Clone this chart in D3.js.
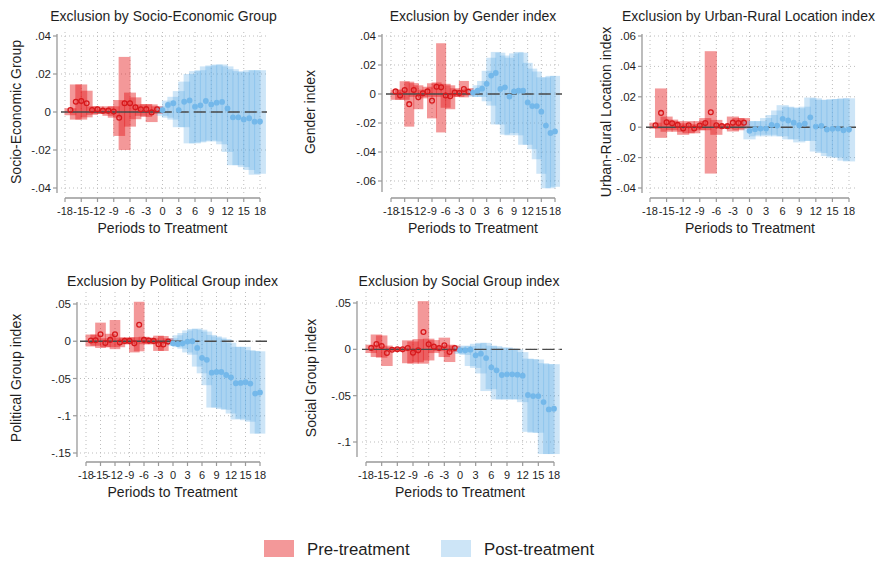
<!DOCTYPE html>
<html><head><meta charset="utf-8">
<script src="https://cdn.jsdelivr.net/npm/d3@7"></script>
<style>body{margin:0;background:#fff} text{font-family:"Liberation Sans",Arial,sans-serif;fill:#1e1e1e}</style>
</head><body><svg id="c" width="877" height="563"></svg>
<script>
const periods = d3.range(-17, 19);          // -17 .. 18
const xTicks = d3.range(-18, 19, 3);
const legendLabels = ["Pre-treatment", "Post-treatment"];

// Socio-Economic Group
const seCoef = [.0010,.0054,.0058,.0046,.0010,.0014,.0007,.0007,.0002,-.0030,.0046,.0046,.0025,.0014,.0015,-.0002,.0014,
  .0010,.0037,.0046,.0010,.0054,.0061,.0028,.0035,.0058,.0040,.0049,.0053,.0019,-.0028,-.0028,-.0039,-.0033,-.0051,-.0050];
const seLo = [-.0017,-.0040,-.0040,-.0028,-.0015,-.0010,-.0010,-.0020,-.0030,-.0126,-.0200,-.0077,-.0038,-.0020,-.0026,-.0053,-.0010,
  -.002,-.003,-.004,-.008,-.008,-.0165,-.0165,-.016,-.0155,-.015,-.0155,-.017,-.021,-.028,-.028,-.029,-.0305,-.033,-.0325];
const seHi = [.0020,.0145,.0145,.0112,.0030,.0030,.0020,.0030,.0030,.0063,.0290,.0102,.0077,.0040,.0042,.0040,.0030,
  .003,.006,.008,.011,.016,.020,.0215,.022,.024,.0245,.025,.025,.024,.0225,.0215,.021,.022,.022,.022];
const seTicks = [.04,.02,0,-.02,-.04];

// Gender
const geCoef = [.0018,-.0010,.0028,-.0070,.0028,-.0022,.0005,.0018,-.0046,.0050,.0046,-.0010,-.0016,.0010,.0007,.0035,.0016,
  .0010,.0023,.0037,.0070,.0127,.0145,.0035,.0046,-.0018,.0018,.0023,.0023,-.0058,-.0083,-.0083,-.0122,-.0218,-.0269,-.0258];
const geLo = [-.004,-.004,-.004,-.0225,-.002,-.0105,-.003,-.002,-.0168,-.002,-.0265,-.0095,-.0105,-.002,-.002,-.0023,-.001,
  -.002,-.002,-.002,-.005,-.008,-.021,-.021,-.028,-.0285,-.027,-.0285,-.035,-.035,-.038,-.045,-.055,-.065,-.065,-.064];
const geHi = [.003,.003,.0088,.0085,.0075,.006,.003,.005,.0074,.008,.035,.007,.006,.004,.003,.009,.004,
  .003,.006,.009,.016,.025,.029,.0285,.0265,.025,.028,.029,.0285,.0215,.0175,.0155,.0115,.0115,.0125,.0125];
const geTicks = [.04,.02,0,-.02,-.04,-.06];

// Urban-Rural Location
const urCoef = [.0013,.0094,.0033,.0026,.0015,-.0009,.0013,-.0009,.0011,.0028,.0098,.0013,.0007,.0007,.0030,.0028,.0030,
  -.0024,-.0013,-.0009,-.0009,.0015,.0011,.0055,.0044,.0030,.0013,.0024,.0065,.0004,.0009,-.0015,-.0011,-.0009,-.0020,-.0015];
const urLo = [-.001,-.007,-.003,-.002,-.003,-.005,-.004,-.004,-.002,-.002,-.0305,-.005,-.001,-.001,-.0028,-.002,-.001,
  -.008,-.006,-.005,-.006,-.005,-.006,-.006,-.008,-.008,-.010,-.009,-.009,-.016,-.017,-.019,-.020,-.020,-.022,-.0225];
const urHi = [.003,.0255,.007,.005,.004,.0026,.004,.002,.004,.006,.050,.0048,.002,.002,.007,.006,.006,
  .004,.004,.004,.006,.008,.011,.0145,.0135,.013,.0125,.0135,.0195,.019,.018,.018,.0185,.0185,.019,.019];
const urTicks = [.06,.04,.02,0,-.02,-.04];

// Political Group
const poCoef = [.0010,.0014,.0093,-.0023,.0018,.0093,-.0018,.0005,.0005,-.0028,.0222,.0018,.0009,.0005,-.0040,-.0044,-.0005,
  -.0028,-.0037,-.0028,-.0005,.0000,-.0089,-.0222,-.0249,-.0422,-.0413,-.0413,-.0453,-.0484,-.0564,-.0560,-.0550,-.0568,-.0702,-.0688];
const poLo = [-.007,-.006,-.009,-.008,-.008,-.0106,-.008,-.004,-.004,-.015,-.0135,-.004,-.004,-.004,-.013,-.013,-.004,
  -.006,-.008,-.010,-.015,-.018,-.034,-.043,-.059,-.089,-.089,-.091,-.092,-.097,-.105,-.104,-.106,-.108,-.124,-.124];
const poHi = [.009,.009,.025,.004,.010,.0285,.005,.005,.005,.0055,.053,.006,.005,.004,.0075,.007,.004,
  .004,.008,.011,.0145,.0165,.017,.0155,.013,.0085,.0065,.005,.003,-.002,-.0075,-.0075,-.0075,-.012,-.013,-.0135];
const poTicks = [.05,0,-.05,-.1,-.15];

// Social Group
const soCoef = [.0014,.0058,.0036,-.0040,-.0004,.0000,.0000,.0014,-.0036,-.0011,.0187,.0054,.0029,.0014,.0043,-.0029,.0014,
  -.0011,-.0011,-.0004,-.0065,-.0047,-.0094,-.0194,-.0227,-.0277,-.0270,-.0270,-.0274,-.0284,-.0493,-.0504,-.0504,-.0569,-.0648,-.0641];
const soLo = [-.004,-.0083,-.009,-.018,-.002,-.002,-.002,-.015,-.0155,-.014,-.0155,-.012,-.004,-.002,-.0083,-.0137,-.003,
  -.005,-.006,-.018,-.020,-.026,-.045,-.043,-.054,-.054,-.054,-.054,-.054,-.057,-.089,-.090,-.090,-.113,-.113,-.113];
const soHi = [.005,.016,.015,.004,.002,.002,.002,.0097,.0085,.011,.052,.0115,.010,.004,.0126,.005,.004,
  .003,.004,.0035,.006,.007,.007,.004,.0035,.0018,.002,.001,.000,-.003,-.010,-.0105,-.011,-.015,-.016,-.016];
const soTicks = [.05,0,-.05,-.1];

const PRE_FILL = "rgb(228,26,28)", PRE_OP = 0.45;
const POST_FILL = "rgb(90,170,230)", POST_OP = 0.30;
const PRE_PT = "#d7191c", POST_PT = "#74b8ea";

const panels = [
  {title:"Exclusion by Socio-Economic Group", ytitle:"Socio-Economic Group", coef:seCoef, lo:seLo, hi:seHi, ticks:seTicks,
   ax:57, x0:65, x1:260, yT:36, yB:188, xAxisY:198, gl:61, gr:267, gt:32, gb:193, tx:163.5, ty:21, ytx:21, yty:112, xtx:162.5},
  {title:"Exclusion by Gender index", ytitle:"Gender index", coef:geCoef, lo:geLo, hi:geHi, ticks:geTicks,
   ax:382, x0:391, x1:555, yT:36, yB:181, xAxisY:198, gl:386, gr:562, gt:32, gb:192, tx:473, ty:21, ytx:315, yty:112, xtx:473},
  {title:"Exclusion by Urban-Rural Location index", ytitle:"Urban-Rural Location index", coef:urCoef, lo:urLo, hi:urHi, ticks:urTicks,
   ax:642, x0:650, x1:849, yT:36, yB:188, xAxisY:198, gl:646, gr:856, gt:32, gb:193, tx:748.5, ty:21, ytx:611, yty:112, xtx:750},
  {title:"Exclusion by Political Group index", ytitle:"Political Group index", coef:poCoef, lo:poLo, hi:poHi, ticks:poTicks,
   ax:77, x0:86, x1:260, yT:304, yB:453, xAxisY:462, gl:80, gr:267, gt:292, gb:457, tx:172.5, ty:286, ytx:21, yty:378, xtx:172.5},
  {title:"Exclusion by Social Group index", ytitle:"Social Group index", coef:soCoef, lo:soLo, hi:soHi, ticks:soTicks,
   ax:357, x0:366, x1:554, yT:303, yB:442, xAxisY:462, gl:362, gr:562, gt:292, gb:457, tx:459, ty:286, ytx:316, yty:378, xtx:460}
];

const fmt = d => d === 0 ? "0" : (d < 0 ? "-" : "") + String(Math.abs(d)).replace(/^0/, "");
const svg = d3.select("#c");

panels.forEach(P => {
  const x = d3.scaleLinear().domain([-18, 18]).range([P.x0, P.x1]);
  const y = d3.scaleLinear().domain([d3.min(P.ticks), d3.max(P.ticks)]).range([P.yB, P.yT]);
  const g = svg.append("g");
  const data = periods.map((p, i) => ({p, c: P.coef[i], lo: P.lo[i], hi: P.hi[i]}));

  // grid
  g.selectAll(".hg").data(P.ticks).join("line")
    .attr("x1", P.gl).attr("x2", P.gr).attr("y1", d => y(d)).attr("y2", d => y(d))
    .attr("stroke", "#bdbdbd").attr("stroke-dasharray", "1,3").attr("stroke-width", 1);
  g.selectAll(".vg").data(xTicks).join("line")
    .attr("x1", d => x(d)).attr("x2", d => x(d)).attr("y1", P.gt).attr("y2", P.gb)
    .attr("stroke", "#bdbdbd").attr("stroke-dasharray", "1,3").attr("stroke-width", 1);

  // CI bars
  g.selectAll(".bar").data(data).join("rect")
    .attr("x", d => x(d.p - 1.1)).attr("width", d => x(d.p + 1.1) - x(d.p - 1.1))
    .attr("y", d => y(d.hi)).attr("height", d => Math.max(0.5, y(d.lo) - y(d.hi)))
    .attr("fill", d => d.p < 0 ? PRE_FILL : POST_FILL)
    .attr("fill-opacity", d => d.p < 0 ? PRE_OP : POST_OP);

  // zero line
  g.append("line").attr("x1", P.gl).attr("x2", x(-0.5)).attr("y1", y(0)).attr("y2", y(0))
    .attr("stroke", "#4a4a4a").attr("stroke-width", 1.4);
  g.append("line").attr("x1", x(-0.5)).attr("x2", P.gr).attr("y1", y(0)).attr("y2", y(0))
    .attr("stroke", "#4a4a4a").attr("stroke-width", 1.4).attr("stroke-dasharray", "12,5");

  // points
  g.selectAll(".pt").data(data).join("circle")
    .attr("cx", d => x(d.p)).attr("cy", d => y(d.c))
    .attr("r", d => d.p < 0 ? 2.4 : 2.9)
    .attr("fill", d => d.p < 0 ? "none" : POST_PT)
    .attr("stroke", d => d.p < 0 ? PRE_PT : "none")
    .attr("stroke-width", 1.3);

  // y axis
  g.append("line").attr("x1", P.ax).attr("x2", P.ax).attr("y1", P.yT - 2).attr("y2", P.gb)
    .attr("stroke", "#999").attr("stroke-width", 1.3);
  g.selectAll(".yt").data(P.ticks).join("line")
    .attr("x1", P.ax - 4).attr("x2", P.ax).attr("y1", d => y(d)).attr("y2", d => y(d))
    .attr("stroke", "#999").attr("stroke-width", 1.2);
  g.selectAll(".yl").data(P.ticks).join("text")
    .attr("x", P.ax - 6).attr("y", d => y(d)).attr("dy", "0.35em")
    .attr("text-anchor", "end").attr("font-size", 11.5).text(fmt);

  // x axis
  g.append("line").attr("x1", P.x0).attr("x2", P.x1).attr("y1", P.xAxisY).attr("y2", P.xAxisY)
    .attr("stroke", "#999").attr("stroke-width", 1.3);
  g.selectAll(".xt").data(xTicks).join("line")
    .attr("x1", d => x(d)).attr("x2", d => x(d)).attr("y1", P.xAxisY).attr("y2", P.xAxisY + 4)
    .attr("stroke", "#999").attr("stroke-width", 1.2);
  g.selectAll(".xl").data(xTicks).join("text")
    .attr("x", d => x(d)).attr("y", P.xAxisY + 17)
    .attr("text-anchor", "middle").attr("font-size", 11).text(d => String(d));

  // titles
  g.append("text").attr("x", P.tx).attr("y", P.ty).attr("text-anchor", "middle")
    .attr("font-size", 14).text(P.title);
  g.append("text").attr("x", P.xtx).attr("y", P.xAxisY + 35).attr("text-anchor", "middle")
    .attr("font-size", 14).text("Periods to Treatment");
  g.append("text").attr("transform", `translate(${P.ytx},${P.yty}) rotate(-90)`)
    .attr("text-anchor", "middle").attr("font-size", 14).text(P.ytitle);
});

// legend
const lg = svg.append("g");
const legendItems = [
  {label: legendLabels[0], fill: PRE_FILL, op: PRE_OP, x: 264},
  {label: legendLabels[1], fill: POST_FILL, op: POST_OP, x: 441}
];
lg.selectAll("rect").data(legendItems).join("rect")
  .attr("x", d => d.x).attr("y", 540).attr("width", 30).attr("height", 17)
  .attr("fill", d => d.fill).attr("fill-opacity", d => d.op);
lg.selectAll("text").data(legendItems).join("text")
  .attr("x", d => d.x + 43).attr("y", 554.5).attr("font-size", 16.8).text(d => d.label);
</script></body></html>
